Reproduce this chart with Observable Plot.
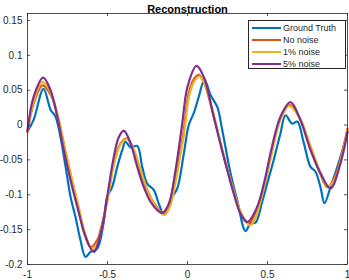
<!DOCTYPE html>
<html><head><meta charset="utf-8">
<script src="https://cdn.jsdelivr.net/npm/d3@7"></script>
<script src="https://cdn.jsdelivr.net/npm/@observablehq/plot@0.6"></script>
<style>
body{margin:0;background:#fff;}
#wrap{position:relative;width:349px;height:280px;font-family:"Liberation Sans",Arial,sans-serif;color:#262626;}
#legend{position:absolute;left:248px;top:20px;width:98px;height:49px;border:1px solid #262626;background:#fff;box-sizing:border-box;}
.row{position:absolute;left:0;height:12px;width:96px;}
.sw{position:absolute;left:3px;top:5px;width:29px;height:2.2px;}
.lb{position:absolute;left:34px;top:0;font-size:9px;line-height:12px;white-space:nowrap;}
</style></head>
<body><div id="wrap"></div>
<script>
const title = "Reconstruction";
const seriesNames = ["Ground Truth", "No noise", "1% noise", "5% noise"];
const seriesColors = ["#0072BD", "#D95319", "#EDB120", "#7E2F8E"];
const xTicks = [-1, -0.5, 0, 0.5, 1];
const yTicks = [-0.2, -0.15, -0.1, -0.05, 0, 0.05, 0.1, 0.15];

const gtX = [-1, -0.9625, -0.9, -0.856, -0.825, -0.794, -0.752, -0.731, -0.7, -0.669, -0.6375, -0.606, -0.564, -0.525, -0.502, -0.471, -0.439, -0.408, -0.3875, -0.356, -0.314, -0.283, -0.252, -0.211, -0.179, -0.148, -0.096, -0.064, -0.023, 0.008, 0.039, 0.071, 0.106, 0.144, 0.186, 0.217, 0.269, 0.311, 0.3625, 0.394, 0.425, 0.467, 0.498, 0.539, 0.581, 0.6125, 0.654, 0.686, 0.727, 0.769, 0.8, 0.831, 0.856, 0.894, 0.956, 1];
const gtY = [-0.009, 0.007, 0.052, 0.022, 0.012, -0.017, -0.074, -0.103, -0.132, -0.165, -0.189, -0.182, -0.177, -0.141, -0.103, -0.089, -0.06, -0.036, -0.024, -0.032, -0.030, -0.06, -0.084, -0.093, -0.113, -0.128, -0.103, -0.091, -0.041, 0.0, 0.017, 0.041, 0.065, 0.043, 0.026, -0.007, -0.069, -0.108, -0.152, -0.141, -0.140, -0.110, -0.084, -0.05, -0.012, 0.014, 0.002, 0.005, -0.026, -0.06, -0.067, -0.089, -0.112, -0.089, -0.046, -0.01];

const nnX = [-1, -0.9625, -0.906, -0.856, -0.81, -0.765, -0.72, -0.68, -0.64, -0.605, -0.56, -0.544, -0.502, -0.46, -0.42, -0.377, -0.3375, -0.295, -0.252, -0.2, -0.148, -0.115, -0.0856, -0.05, -0.023, 0.008, 0.04, 0.071, 0.105, 0.16, 0.225, 0.29, 0.335, 0.383, 0.42, 0.456, 0.49, 0.52, 0.581, 0.639, 0.706, 0.769, 0.83, 0.873, 0.92, 0.956, 1];
const nnY = [-0.010, 0.030, 0.057, 0.044, 0.012, -0.036, -0.082, -0.120, -0.158, -0.175, -0.163, -0.151, -0.108, -0.055, -0.027, -0.019, -0.036, -0.065, -0.093, -0.115, -0.128, -0.115, -0.084, -0.045, -0.007, 0.046, 0.066, 0.072, 0.060, 0.016, -0.043, -0.097, -0.127, -0.141, -0.128, -0.105, -0.076, -0.045, 0.010, 0.029, 0.008, -0.033, -0.070, -0.089, -0.075, -0.050, -0.005];

const n1X = [-1, -0.9625, -0.906, -0.856, -0.81, -0.765, -0.72, -0.68, -0.64, -0.598, -0.56, -0.544, -0.502, -0.46, -0.42, -0.38, -0.3375, -0.295, -0.252, -0.2, -0.145, -0.11, -0.08, -0.05, -0.02, 0.008, 0.04, 0.073, 0.105, 0.16, 0.225, 0.29, 0.335, 0.39, 0.425, 0.456, 0.49, 0.52, 0.581, 0.635, 0.70, 0.769, 0.83, 0.875, 0.92, 0.956, 1];
const n1Y = [-0.010, 0.033, 0.062, 0.047, 0.013, -0.035, -0.080, -0.118, -0.156, -0.177, -0.168, -0.155, -0.110, -0.057, -0.028, -0.020, -0.034, -0.063, -0.092, -0.116, -0.129, -0.117, -0.088, -0.050, -0.010, 0.040, 0.062, 0.070, 0.060, 0.018, -0.042, -0.095, -0.126, -0.144, -0.133, -0.110, -0.078, -0.048, 0.008, 0.028, 0.010, -0.030, -0.068, -0.088, -0.078, -0.052, -0.008];

const n5X = [-1, -0.961, -0.902, -0.856, -0.814, -0.773, -0.731, -0.689, -0.6375, -0.586, -0.533, -0.502, -0.461, -0.429, -0.398, -0.356, -0.314, -0.273, -0.231, -0.189, -0.158, -0.117, -0.075, -0.033, 0.0, 0.056, 0.102, 0.164, 0.227, 0.289, 0.331, 0.373, 0.436, 0.4875, 0.519, 0.581, 0.644, 0.706, 0.769, 0.831, 0.894, 0.956, 1];
const n5Y = [-0.008, 0.041, 0.068, 0.050, 0.012, -0.036, -0.079, -0.117, -0.160, -0.182, -0.146, -0.103, -0.046, -0.017, -0.008, -0.026, -0.06, -0.089, -0.11, -0.122, -0.126, -0.113, -0.065, 0.002, 0.055, 0.085, 0.069, 0.012, -0.046, -0.098, -0.127, -0.139, -0.117, -0.074, -0.040, 0.012, 0.033, 0.007, -0.036, -0.069, -0.091, -0.055, -0.01];

const seriesX = [gtX, nnX, n1X, n5X];
const seriesY = [gtY, nnY, n1Y, n5Y];

const W = 349, H = 280, mL = 27, mR = 2, mT = 13, mB = 16;
const fW = W - mL - mR, fH = H - mT - mB;
const tick = 3, axisColor = "#262626";

const lineMarks = seriesX.map((xs, k) =>
  Plot.line(xs.map((x, i) => ({x, y: seriesY[k][i]})), {
    x: "x", y: "y", stroke: seriesColors[k], strokeWidth: 2.2, curve: "catmull-rom"
  })
);

const chart = Plot.plot({
  width: W, height: H,
  marginLeft: mL, marginRight: mR, marginTop: mT, marginBottom: mB,
  style: {fontFamily: "Liberation Sans, Arial, sans-serif", fontSize: "10px", color: axisColor, background: "#fff"},
  x: {domain: [-1, 1]},
  y: {domain: [-0.2, 0.16]},
  marks: [
    ...lineMarks,
    Plot.frame({stroke: axisColor, strokeWidth: 0.8}),
    Plot.ruleX(xTicks, {x: d => d, insetTop: fH - tick, stroke: axisColor, strokeWidth: 0.8}),
    Plot.ruleX(xTicks, {x: d => d, insetBottom: fH - tick, stroke: axisColor, strokeWidth: 0.8}),
    Plot.ruleY(yTicks, {y: d => d, insetRight: fW - tick, stroke: axisColor, strokeWidth: 0.8}),
    Plot.ruleY(yTicks, {y: d => d, insetLeft: fW - tick, stroke: axisColor, strokeWidth: 0.8}),
    Plot.axisX(xTicks, {tickSize: 0, tickPadding: 6, tickFormat: d => String(d), label: null, fontSize: 10}),
    Plot.axisY(yTicks, {tickSize: 0, tickPadding: 5, tickFormat: d => String(d), label: null, fontSize: 10}),
    Plot.text([title], {text: d => d, frameAnchor: "top", dy: -8, fontWeight: "bold", fontSize: 11, fill: "#000"})
  ]
});

const wrap = document.getElementById("wrap");
wrap.appendChild(chart);
const leg = document.createElement("div");
leg.id = "legend";
const rowTops = [1, 13, 25, 37];
seriesNames.forEach((name, k) => {
  const r = document.createElement("div");
  r.className = "row";
  r.style.top = rowTops[k] + "px";
  const sw = document.createElement("div");
  sw.className = "sw";
  sw.style.background = seriesColors[k];
  const lb = document.createElement("div");
  lb.className = "lb";
  lb.textContent = name;
  r.appendChild(sw); r.appendChild(lb);
  leg.appendChild(r);
});
wrap.appendChild(leg);
</script></body></html>
